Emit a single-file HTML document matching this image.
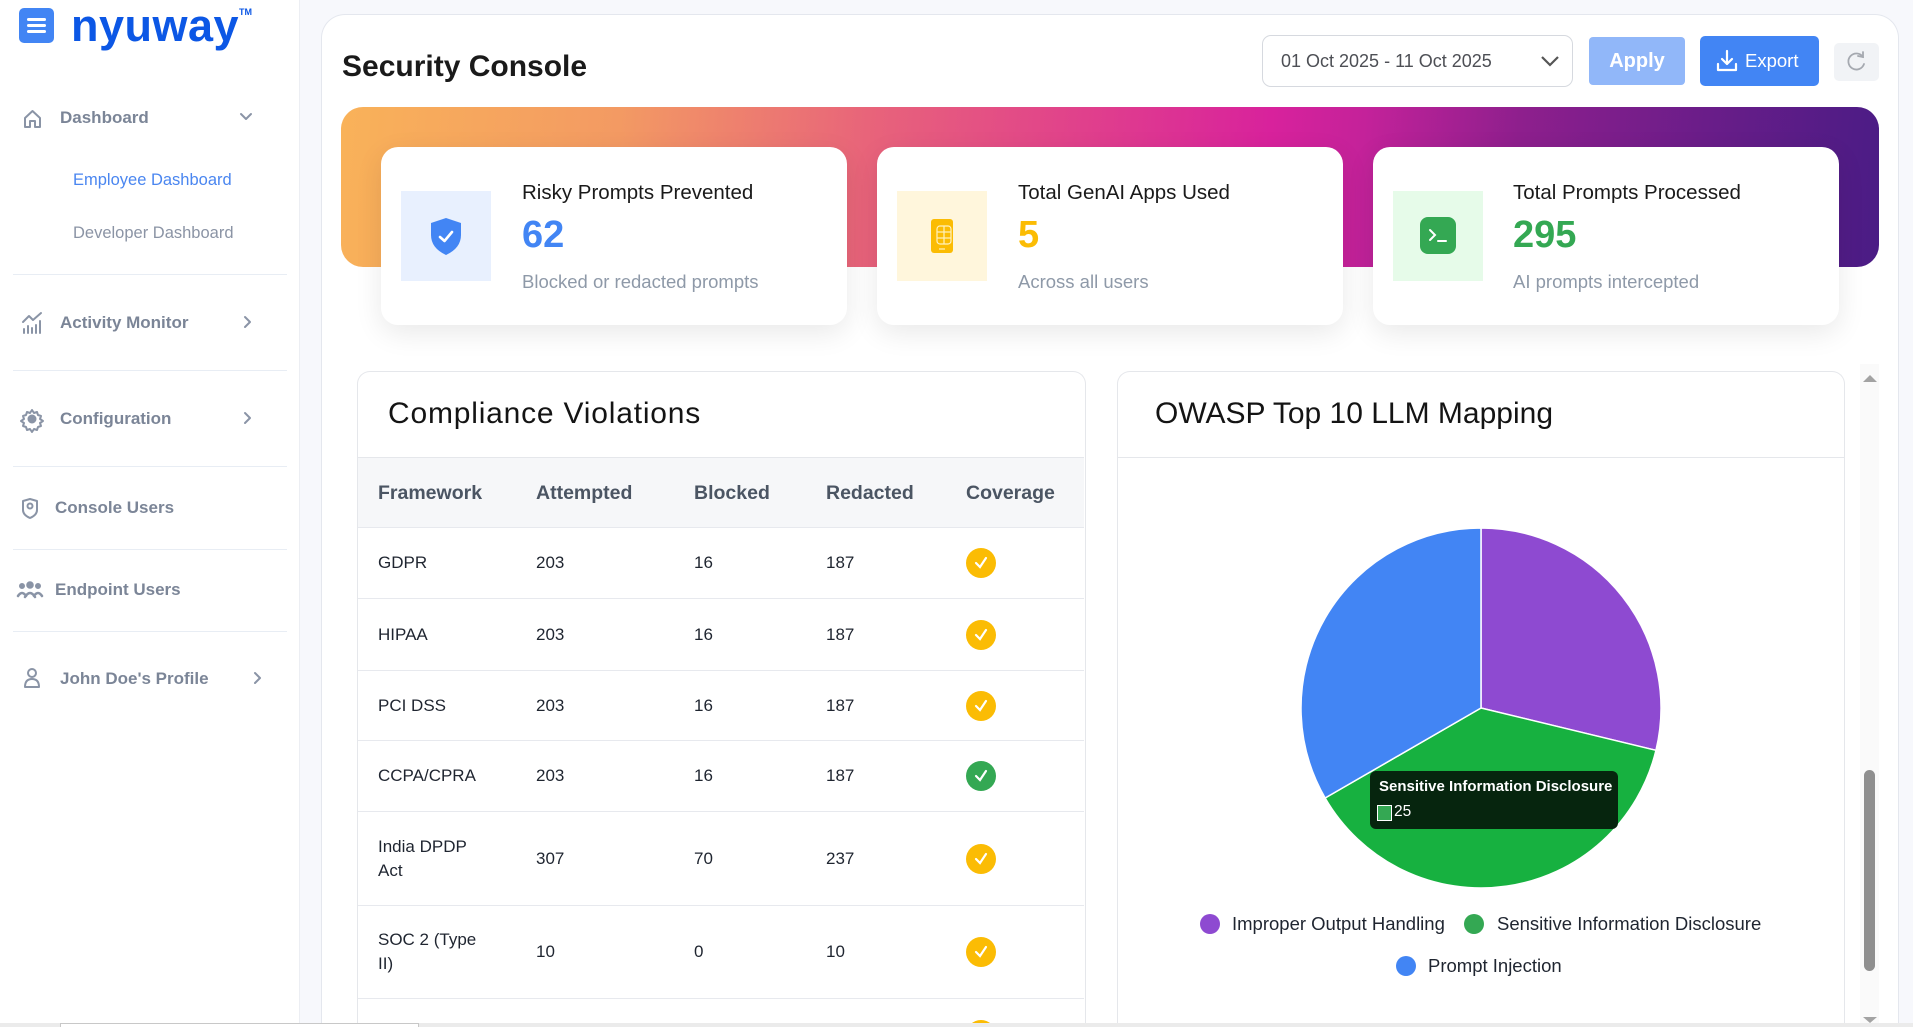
<!DOCTYPE html>
<html><head><meta charset="utf-8">
<style>
*{box-sizing:border-box;margin:0;padding:0}
html,body{width:1913px;height:1027px;overflow:hidden;background:#f7f8fc;font-family:"Liberation Sans",sans-serif}
#wrap{position:relative;width:1913px;height:1027px;overflow:hidden}
.a{position:absolute}
.mi{position:absolute;font-weight:bold;font-size:17px;color:#7b8597;line-height:20px;white-space:nowrap}
.sub{position:absolute;font-size:16.5px;line-height:20px;white-space:nowrap}
.div{position:absolute;left:13px;width:274px;height:1px;background:#e8edf4}
.card{position:absolute;top:147px;width:466px;height:178px;background:#fff;border-radius:17px;box-shadow:0 8px 28px rgba(0,0,0,0.09)}
.ibox{position:absolute;top:191px;width:90px;height:90px}
.ct{position:absolute;font-size:20.5px;line-height:24px;color:#1a1a1a;white-space:nowrap;top:181px}
.cn{position:absolute;font-size:38px;font-weight:bold;line-height:40px;top:215px}
.cs{position:absolute;font-size:18.5px;line-height:22px;color:#8e99a8;top:271px;white-space:nowrap}
.row{position:absolute;left:358px;width:726px;border-bottom:1px solid #e7e9ee}
.c{position:absolute;top:0;height:100%;display:flex;align-items:center;font-size:17px;line-height:24px;color:#1f2530}
.hc{font-size:19.5px;font-weight:bold;color:#4b5563}
.chk{width:30px;height:30px;border-radius:50%;background:#fbbc04;display:flex;align-items:center;justify-content:center}
.g{background:#34a853}
.lg{position:absolute;font-size:18.5px;line-height:22px;color:#1f2530;white-space:nowrap}
.dot{position:absolute;width:20px;height:20px;border-radius:50%}
</style></head><body>
<div id="wrap">

<!-- Sidebar -->
<div class="a" style="left:0;top:0;width:300px;height:1027px;background:#fff;border-right:1px solid #eceef3"></div>
<div class="a" style="left:19px;top:8px;width:35px;height:35px;background:#4285f4;border-radius:5px">
  <div class="a" style="left:8px;top:10px;width:19px;height:3px;background:#fff;border-radius:2px"></div>
  <div class="a" style="left:8px;top:16px;width:19px;height:3px;background:#fff;border-radius:2px"></div>
  <div class="a" style="left:8px;top:22px;width:19px;height:3px;background:#fff;border-radius:2px"></div>
</div>
<div class="a" style="left:71px;top:1px;font-size:45px;font-weight:bold;color:#0c57e5;line-height:50px;letter-spacing:0.5px">nyuway</div>
<div class="a" style="left:239px;top:7px;font-size:9px;font-weight:bold;color:#0c57e5">TM</div>

<svg class="a" style="left:0;top:0" width="300" height="720" fill="none" stroke="#8a94a6" stroke-width="2" stroke-linecap="round" stroke-linejoin="round">
  <path d="M25 118 L32.5 111 L40 118 L40 127 L35 127 L35 121 L30 121 L30 127 L25 127 Z"/>
  <polyline points="241,114 246,119 251,114"/>
  <path d="M24 333 v-4 M28 333 v-7 M32 333 v-5 M36 333 v-8 M40 333 v-12"/>
  <polyline points="23,322 29,316 33,320 41,313"/>
  <polyline points="245,317 250,322 245,327"/>
  <circle cx="32" cy="419" r="3.5" fill="#8a94a6"/>
  <path d="M32 410 l2 3 3-1 1 3 3 1-1 3 3 2-3 2 1 3-3 1-1 3-3-1-2 3-2-3-3 1-1-3-3-1 1-3-3-2 3-2-1-3 3-1 1-3 3 1 z"/>
  <polyline points="245,413 250,418 245,423"/>
  <path d="M30 499 L37 501 L37 510 Q37 515 30 518 Q23 515 23 510 L23 501 Z"/>
  <circle cx="30" cy="506" r="2.5"/>
  <circle cx="22" cy="586" r="2" fill="#8a94a6"/><circle cx="30" cy="585" r="2.8" fill="#8a94a6"/><circle cx="38" cy="586" r="2" fill="#8a94a6"/>
  <path d="M18 596 q4-6 8 0 M25 597 q5-8 10 0 M34 596 q4-6 8 0" stroke-width="2.5"/>
  <circle cx="32" cy="673" r="4"/>
  <path d="M25 687 q0-8 7-8 q7 0 7 8 z"/>
  <polyline points="255,673 260,678 255,683"/>
</svg>

<div class="mi" style="left:60px;top:108px">Dashboard</div>
<div class="sub" style="left:73px;top:170px;color:#4a86f0">Employee Dashboard</div>
<div class="sub" style="left:73px;top:223px;color:#8b94a5">Developer Dashboard</div>
<div class="div" style="top:274px"></div>
<div class="mi" style="left:60px;top:313px">Activity Monitor</div>
<div class="div" style="top:370px"></div>
<div class="mi" style="left:60px;top:409px">Configuration</div>
<div class="div" style="top:466px"></div>
<div class="mi" style="left:55px;top:498px">Console Users</div>
<div class="div" style="top:549px"></div>
<div class="mi" style="left:55px;top:580px">Endpoint Users</div>
<div class="div" style="top:631px"></div>
<div class="mi" style="left:60px;top:669px">John Doe's Profile</div>

<!-- Main panel -->
<div class="a" style="left:321px;top:14px;width:1578px;height:1013px;background:#fff;border:1px solid #e4e7ee;border-bottom:none;border-radius:24px 24px 0 0"></div>
<div class="a" style="left:342px;top:52px;font-size:30px;font-weight:bold;line-height:30px;color:#1a1a1a;white-space:nowrap">Security Console</div>

<div class="a" style="left:1262px;top:35px;width:311px;height:52px;border:1px solid #d6d9df;border-radius:9px"></div>
<div class="a" style="left:1281px;top:50px;font-size:18px;line-height:22px;color:#4d4f55;white-space:nowrap">01 Oct 2025 - 11 Oct 2025</div>
<svg class="a" style="left:1540px;top:54px" width="20" height="14"><polyline points="2,3 10,11 18,3" fill="none" stroke="#555" stroke-width="2.2"/></svg>
<div class="a" style="left:1589px;top:37px;width:96px;height:48px;background:#91b7f9;border-radius:4px;color:#fff;font-size:20px;font-weight:bold;line-height:48px;text-align:center">Apply</div>
<div class="a" style="left:1700px;top:36px;width:119px;height:50px;background:#4285f4;border-radius:5px"></div>
<svg class="a" style="left:1716px;top:49px" width="22" height="24" fill="none" stroke="#fff" stroke-width="2.2" stroke-linecap="round" stroke-linejoin="round"><path d="M11 2 v13 M6 10 l5 5 5-5 M2 15 v6 h18 v-6"/></svg>
<div class="a" style="left:1745px;top:50px;font-size:18.5px;line-height:22px;color:#fff;white-space:nowrap">Export</div>
<div class="a" style="left:1834px;top:43px;width:45px;height:38px;background:#f1f3f6;border-radius:5px"></div>
<svg class="a" style="left:1845px;top:51px" width="24" height="22" fill="none" stroke="#a5a9b0" stroke-width="1.8" stroke-linecap="round"><path d="M18 6 A8 8 0 1 0 19 13"/><polyline points="13,5 18,6 18,1"/></svg>

<div class="a" style="left:341px;top:107px;width:1538px;height:160px;border-radius:22px;background:linear-gradient(95deg,#f9b259 0%,#f39a63 18%,#e8647a 34%,#e0408c 48%,#d8229c 60%,#c4229a 66%,#8e1f8d 76%,#6a1d89 88%,#4a1c85 100%)"></div>

<div class="card" style="left:381px"></div>
<div class="card" style="left:877px"></div>
<div class="card" style="left:1373px"></div>

<div class="ibox" style="left:401px;background:#e8f0fe"></div>
<svg class="a" style="left:429px;top:217px" width="34" height="39"><path d="M17 1 L32 6 L32 18 Q32 31 17 38 Q2 31 2 18 L2 6 Z" fill="#4285f4"/><polyline points="11,20 15.5,24 23,15" fill="none" stroke="#fff" stroke-width="2.6" stroke-linecap="round" stroke-linejoin="round"/></svg>
<div class="ct" style="left:522px">Risky Prompts Prevented</div>
<div class="cn" style="left:522px;color:#4285f4">62</div>
<div class="cs" style="left:522px">Blocked or redacted prompts</div>

<div class="ibox" style="left:897px;background:#fff6dc"></div>
<svg class="a" style="left:930px;top:218px" width="26" height="36"><rect x="1" y="1" width="22" height="34" rx="3" fill="#fbbc04"/><rect x="7" y="8" width="14" height="18" rx="3" fill="none" stroke="#fff1bf" stroke-width="1.2"/><line x1="14" y1="8" x2="14" y2="26" stroke="#fff1bf" stroke-width="1.2"/><line x1="7" y1="14" x2="21" y2="14" stroke="#fff1bf" stroke-width="1.2"/><line x1="7" y1="20" x2="21" y2="20" stroke="#fff1bf" stroke-width="1.2"/><line x1="9" y1="31" x2="15" y2="31" stroke="#fff1bf" stroke-width="1.2"/></svg>
<div class="ct" style="left:1018px">Total GenAI Apps Used</div>
<div class="cn" style="left:1018px;color:#fbbc04">5</div>
<div class="cs" style="left:1018px">Across all users</div>

<div class="ibox" style="left:1393px;background:#e6fbe9"></div>
<div class="a" style="left:1420px;top:217px;width:36px;height:37px;background:#34a853;border-radius:8px"></div>
<svg class="a" style="left:1420px;top:217px" width="36" height="37" fill="none" stroke="#fff" stroke-width="2" stroke-linecap="round"><polyline points="10,13 15,18 10,23"/><line x1="18" y1="24" x2="26" y2="24"/></svg>
<div class="ct" style="left:1513px">Total Prompts Processed</div>
<div class="cn" style="left:1513px;color:#34a853">295</div>
<div class="cs" style="left:1513px">AI prompts intercepted</div>

<!-- Compliance card -->
<div class="a" style="left:357px;top:371px;width:729px;height:656px;background:#fff;border:1px solid #e5e7eb;border-bottom:none;border-radius:13px 13px 0 0"></div>
<div class="a" style="left:388px;top:397px;font-size:30px;line-height:34px;color:#141414;letter-spacing:0.8px;white-space:nowrap">Compliance Violations</div>
<div class="row" style="top:457px;height:71px;background:#f6f7f9;border-top:1px solid #e5e7eb">
  <div class="c hc" style="left:20px">Framework</div>
  <div class="c hc" style="left:178px">Attempted</div>
  <div class="c hc" style="left:336px">Blocked</div>
  <div class="c hc" style="left:468px">Redacted</div>
  <div class="c hc" style="left:608px">Coverage</div>
</div>
<div class="row" style="top:528px;height:71px">
  <div class="c" style="left:20px">GDPR</div><div class="c" style="left:178px">203</div><div class="c" style="left:336px">16</div><div class="c" style="left:468px">187</div>
  <div class="c" style="left:608px"><div class="chk"><svg width="16" height="16"><polyline points="3,8 7,12 13,3" fill="none" stroke="#fff" stroke-width="2.2" stroke-linecap="round"/></svg></div></div>
</div>
<div class="row" style="top:599px;height:72px">
  <div class="c" style="left:20px">HIPAA</div><div class="c" style="left:178px">203</div><div class="c" style="left:336px">16</div><div class="c" style="left:468px">187</div>
  <div class="c" style="left:608px"><div class="chk"><svg width="16" height="16"><polyline points="3,8 7,12 13,3" fill="none" stroke="#fff" stroke-width="2.2" stroke-linecap="round"/></svg></div></div>
</div>
<div class="row" style="top:671px;height:70px">
  <div class="c" style="left:20px">PCI DSS</div><div class="c" style="left:178px">203</div><div class="c" style="left:336px">16</div><div class="c" style="left:468px">187</div>
  <div class="c" style="left:608px"><div class="chk"><svg width="16" height="16"><polyline points="3,8 7,12 13,3" fill="none" stroke="#fff" stroke-width="2.2" stroke-linecap="round"/></svg></div></div>
</div>
<div class="row" style="top:741px;height:71px">
  <div class="c" style="left:20px">CCPA/CPRA</div><div class="c" style="left:178px">203</div><div class="c" style="left:336px">16</div><div class="c" style="left:468px">187</div>
  <div class="c" style="left:608px"><div class="chk g"><svg width="16" height="16"><polyline points="3,8 7,12 13,3" fill="none" stroke="#fff" stroke-width="2.2" stroke-linecap="round"/></svg></div></div>
</div>
<div class="row" style="top:812px;height:94px">
  <div class="c" style="left:20px">India DPDP<br>Act</div><div class="c" style="left:178px">307</div><div class="c" style="left:336px">70</div><div class="c" style="left:468px">237</div>
  <div class="c" style="left:608px"><div class="chk"><svg width="16" height="16"><polyline points="3,8 7,12 13,3" fill="none" stroke="#fff" stroke-width="2.2" stroke-linecap="round"/></svg></div></div>
</div>
<div class="row" style="top:906px;height:93px">
  <div class="c" style="left:20px">SOC 2 (Type<br>II)</div><div class="c" style="left:178px">10</div><div class="c" style="left:336px">0</div><div class="c" style="left:468px">10</div>
  <div class="c" style="left:608px"><div class="chk"><svg width="16" height="16"><polyline points="3,8 7,12 13,3" fill="none" stroke="#fff" stroke-width="2.2" stroke-linecap="round"/></svg></div></div>
</div>
<div class="a" style="left:966px;top:1020px;width:30px;height:7px;overflow:hidden"><div style="width:30px;height:30px;border-radius:50%;background:#fbbc04"></div></div>

<!-- OWASP card -->
<div class="a" style="left:1117px;top:371px;width:728px;height:656px;background:#fff;border:1px solid #e5e7eb;border-bottom:none;border-radius:13px 13px 0 0"></div>
<div class="a" style="left:1155px;top:397px;font-size:30px;line-height:34px;color:#141414;white-space:nowrap">OWASP Top 10 LLM Mapping</div>
<div class="a" style="left:1118px;top:457px;width:726px;height:1px;background:#e5e7eb"></div>

<svg class="a" style="left:1290px;top:520px" width="380" height="380" viewBox="1290 520 380 380">
  <path d="M1481,708 L1481,528 A180,180 0 0,1 1655.96,750.32 Z" fill="#8e4ad1" stroke="#fff" stroke-width="1.5"/>
  <path d="M1481,708 L1655.96,750.32 A180,180 0 0,1 1325.12,798 Z" fill="#17b140" stroke="#fff" stroke-width="1.5"/>
  <path d="M1481,708 L1325.12,798 A180,180 0 0,1 1481,528 Z" fill="#4285f4" stroke="#fff" stroke-width="1.5"/>
</svg>

<div class="a" style="left:1370px;top:771px;width:248px;height:58px;background:#06250e;border-radius:6px"></div>
<div class="a" style="left:1379px;top:778px;font-size:15px;font-weight:bold;line-height:18px;color:#fff;white-space:nowrap">Sensitive Information Disclosure</div>
<div class="a" style="left:1377px;top:805px;width:15px;height:16px;background:#34a853;border:1.5px solid #fff"></div>
<div class="a" style="left:1394px;top:803px;font-size:15.5px;line-height:18px;color:#fff">25</div>

<div class="dot" style="left:1200px;top:914px;background:#8e4ad1"></div>
<div class="lg" style="left:1232px;top:913px">Improper Output Handling</div>
<div class="dot" style="left:1464px;top:914px;background:#34a853"></div>
<div class="lg" style="left:1497px;top:913px">Sensitive Information Disclosure</div>
<div class="dot" style="left:1396px;top:956px;background:#4285f4"></div>
<div class="lg" style="left:1428px;top:955px">Prompt Injection</div>

<!-- vertical scrollbar -->
<div class="a" style="left:1860px;top:364px;width:19px;height:663px;background:#fafafa"></div>
<svg class="a" style="left:1862px;top:374px" width="16" height="10"><polygon points="1,8 8,1 15,8" fill="#a3a3a3"/></svg>
<div class="a" style="left:1864px;top:770px;width:11px;height:201px;background:#8f8f8f;border-radius:6px"></div>
<svg class="a" style="left:1862px;top:1016px" width="16" height="7"><polygon points="1,1 15,1 8,7" fill="#a3a3a3"/></svg>

<!-- bottom horizontal scrollbar -->
<div class="a" style="left:0;top:1023px;width:1913px;height:4px;background:#ebebeb"></div>
<div class="a" style="left:60px;top:1023px;width:359px;height:4px;background:#fff;border:1px solid #c8c8c8;border-bottom:none"></div>

</div>
</body></html>
